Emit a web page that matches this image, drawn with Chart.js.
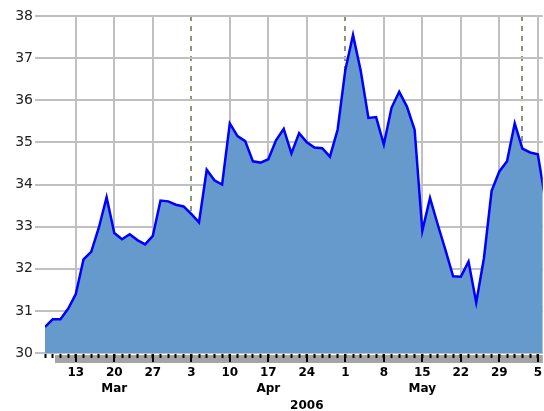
<!DOCTYPE html>
<html>
<head>
<meta charset="utf-8">
<script src="https://cdn.jsdelivr.net/npm/chart.js@4.4.0/dist/chart.umd.min.js"></script>
<style>
	html, body { margin: 0; padding: 0; background: #fff; overflow: hidden; }
	#wrap { width: 544px; height: 411px; position: relative; }
</style>
</head>
<body>
<div id="wrap"><canvas id="chart"></canvas></div>
<script>
"use strict";

// one value per weekday, starting Tue 7 Mar 2006
const prices = [
	30.62, 30.80, 30.80, 31.05, 31.40, 32.22, 32.40, 32.98, 33.70, 32.85,
	32.70, 32.82, 32.68, 32.58, 32.78, 33.62, 33.60, 33.52, 33.48, 33.30,
	33.10, 34.35, 34.10, 34.00, 35.45, 35.15, 35.03, 34.55, 34.52, 34.60,
	35.05, 35.32, 34.74, 35.22, 35.00, 34.88, 34.86, 34.66, 35.30, 36.72,
	37.55, 36.70, 35.58, 35.60, 34.95, 35.82, 36.20, 35.85, 35.30, 32.90,
	33.68, 33.05, 32.45, 31.82, 31.81, 32.17, 31.20, 32.25, 33.85, 34.31,
	34.55, 35.45, 34.85, 34.76, 34.72, 33.60
];

// Mondays (weekday index) and their day-of-month labels
const weekIdx = [4, 9, 14, 19, 24, 29, 34, 39, 44, 49, 54, 59, 64];
const weekLabels = ['13', '20', '27', '3', '10', '17', '24', '1', '8', '15', '22', '29', '5'];
// first weekday of Apr, May, Jun
const monthStartIdx = [19, 39, 62];
const monthLabelAt = { 9: 'Mar', 29: 'Apr', 49: 'May' };
const yearLabelAt = 34;
const yearLabel = '2006';
const yTicks = [30, 31, 32, 33, 34, 35, 36, 37, 38];

const xMin = 0;
const xMax = 64.64;

const points = prices.map(function(v, i) {
	return { x: i, y: v };
});

const rulerBand = {
	id: 'rulerBand',
	beforeDraw: function(chart) {
		const ctx = chart.ctx;
		const area = chart.chartArea;
		ctx.save();
		ctx.fillStyle = '#a4a4a4';
		ctx.fillRect(area.left + 10, area.bottom + 2, area.right - area.left - 10, 8);
		ctx.restore();
	}
};

new Chart(document.getElementById('chart'), {
	type: 'line',
	data: {
		datasets: [{
			data: points,
			borderColor: '#0000ff',
			borderWidth: 2.5,
			backgroundColor: '#6699cc',
			fill: 'start',
			pointRadius: 0,
			tension: 0,
		}]
	},
	plugins: [rulerBand],
	options: {
		responsive: true,
		maintainAspectRatio: false,
		animation: false,
		layout: {
			padding: { top: 16, left: 0, right: 0, bottom: 0 }
		},
		plugins: {
			legend: { display: false },
			tooltip: { enabled: false },
		},
		scales: {
			x: {
				type: 'linear',
				position: 'bottom',
				min: xMin,
				max: xMax,
				afterBuildTicks: function(scale) {
					scale.ticks = weekIdx.map(function(v) { return { value: v }; });
				},
				afterFit: function(scale) {
					scale.height = 58;
				},
				border: { display: false },
				grid: {
					color: function(c) {
						if (c.tick && monthStartIdx.indexOf(c.tick.value) >= 0) {
							return 'rgba(0,0,0,0)';
						}
						return '#c0c0c0';
					},
					lineWidth: 2,
					tickColor: '#000',
					tickWidth: 2,
					tickLength: 9,
				},
				ticks: {
					autoSkip: false,
					maxRotation: 0,
					padding: 2,
					color: '#000',
					font: { family: 'DejaVu Sans', size: 12, weight: 'bold', lineHeight: 1.4 },
					callback: function(val, i) {
						const lines = [weekLabels[i]];
						if (monthLabelAt[val]) {
							lines.push(monthLabelAt[val]);
						}
						if (val === yearLabelAt) {
							lines.push('', yearLabel);
						}
						return lines;
					}
				}
			},
			xd: {
				type: 'linear',
				axis: 'x',
				position: { y: 30 },
				min: xMin,
				max: xMax,
				afterBuildTicks: function(scale) {
					scale.ticks = prices.map(function(v, i) { return { value: i }; }).filter(function(t) {
						return t.value <= xMax;
					});
				},
				border: { display: false },
				grid: {
					drawOnChartArea: false,
					tickColor: '#000',
					tickWidth: 2,
					tickLength: 5,
				},
				ticks: { display: false }
			},
			xm: {
				type: 'linear',
				axis: 'x',
				position: { y: 30 },
				min: xMin,
				max: xMax,
				afterBuildTicks: function(scale) {
					scale.ticks = monthStartIdx.map(function(v) { return { value: v }; });
				},
				border: { display: false, dash: [5, 5] },
				grid: {
					drawTicks: false,
					color: '#8a9774',
					lineWidth: 2,
				},
				ticks: { display: false }
			},
			y: {
				min: 30,
				max: 38,
				afterBuildTicks: function(scale) {
					scale.ticks = yTicks.map(function(v) { return { value: v }; });
				},
				afterFit: function(scale) {
					scale.width = 45;
				},
				border: { display: false },
				grid: {
					color: '#c0c0c0',
					lineWidth: 2,
					tickLength: 10,
				},
				ticks: {
					padding: 2,
					color: '#222',
					font: { family: 'DejaVu Sans', size: 14 },
				}
			}
		}
	}
});
</script>
</body>
</html>
